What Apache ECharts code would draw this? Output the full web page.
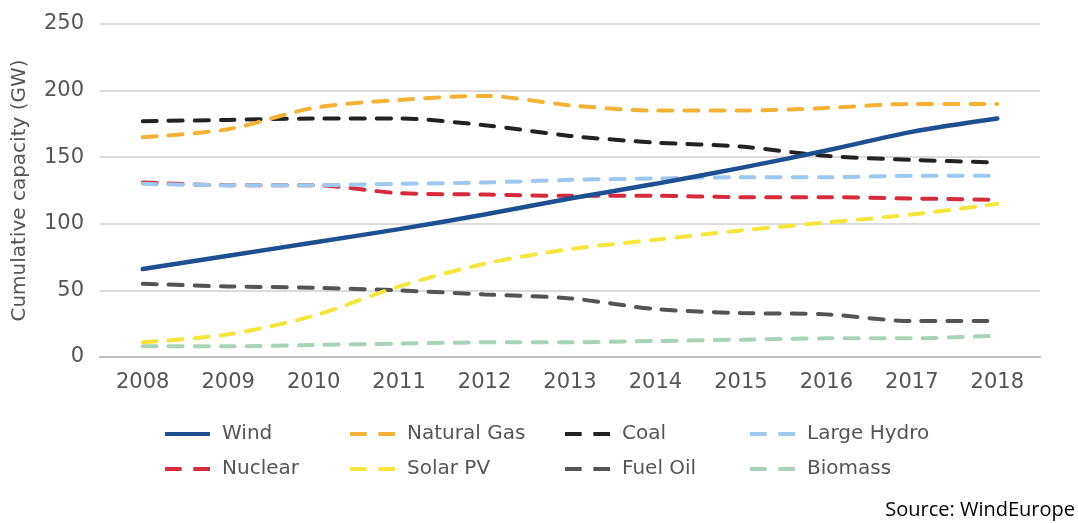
<!DOCTYPE html>
<html>
<head>
<meta charset="utf-8">
<script src="https://cdn.jsdelivr.net/npm/echarts@6/dist/echarts.min.js"></script>
<style>
  html, body { margin: 0; padding: 0; background: #fff; }
  #main { width: 1078px; height: 523px; }
</style>
</head>
<body>
<div id="main"></div>
<script>
// data (GW)
var years = ['2008','2009','2010','2011','2012','2013','2014','2015','2016','2017','2018'];
var wind       = [66, 76, 86, 96, 107, 119, 130, 142, 155, 169, 179];
var naturalGas = [165, 171, 187, 193, 196, 189, 185, 185, 187, 190, 190];
var coal       = [177, 178, 179, 179, 174, 166, 161, 158, 151, 148, 146];
var largeHydro = [130, 129, 129, 130, 131, 133, 134, 135, 135, 136, 136];
var nuclear    = [131, 129, 129, 123, 122, 121, 121, 120, 120, 119, 118];
var solarPV    = [11, 17, 31, 53, 70, 81, 88, 95, 101, 107, 115];
var fuelOil    = [55, 53, 52, 50, 47, 44, 36, 33, 32, 27, 27];
var biomass    = [8, 8, 9, 10, 11, 11, 12, 13, 14, 14, 16];

var font = 'DejaVu Sans';
var txt = '#555';

// legend icons: solid bar / two dashes
var solidIcon = 'path://M0,0h46v4h-46z';
var dashIcon = 'path://M0,0h17v4h-17z M29,0h17v4h-17z';

function mk(name, data, color, dashed) {
  return {
    name: name,
    type: 'line',
    data: data,
    symbol: 'none',
    smooth: 0.3,
    lineStyle: {
      color: color,
      width: dashed ? 4 : 4.5,
      type: dashed ? [14, 12] : 'solid',
      cap: 'round'
    },
    itemStyle: { color: color }
  };
}

function leg(left, names) {
  return {
    orient: 'vertical',
    left: left,
    top: 418,
    data: names.map(function (n) {
      return { name: n, icon: n === 'Wind' ? solidIcon : dashIcon };
    }),
    itemWidth: 45,
    itemHeight: 4,
    itemGap: 13,
    textStyle: { fontFamily: font, fontSize: 20, color: txt, lineHeight: 22, padding: [0, 0, 0, 7] }
  };
}

var myChart = echarts.init(document.getElementById('main'));
var option = {
  backgroundColor: '#fff',
  animation: false,
  grid: { left: 100, right: 38, top: 24, bottom: 166 },
  xAxis: {
    type: 'category',
    data: years,
    boundaryGap: true,
    axisLine: { lineStyle: { color: '#bdbdbd', width: 2 } },
    axisTick: { show: false },
    axisLabel: { fontFamily: font, fontSize: 21, color: txt, margin: 15 }
  },
  yAxis: {
    type: 'value',
    min: 0,
    max: 250,
    interval: 50,
    name: 'Cumulative capacity (GW)',
    nameLocation: 'middle',
    nameRotate: 90,
    nameGap: 70,
    nameTextStyle: { fontFamily: font, fontSize: 20, color: txt },
    axisLine: { show: false },
    axisTick: { show: false },
    axisLabel: { fontFamily: font, fontSize: 21, color: txt, margin: 16 },
    splitLine: { lineStyle: { color: '#cfcfcf', width: 1.5 } }
  },
  legend: [
    leg(160, ['Wind', 'Nuclear']),
    leg(345, ['Natural Gas', 'Solar PV']),
    leg(560, ['Coal', 'Fuel Oil']),
    leg(745, ['Large Hydro', 'Biomass'])
  ],
  graphic: [{
    type: 'text',
    right: 3,
    top: 500,
    style: { text: 'Source: WindEurope', fontFamily: 'Open Sans', fontSize: 20, fill: '#000' }
  }],
  series: [
    mk('Biomass', biomass, '#a9d3b6', true),
    mk('Fuel Oil', fuelOil, '#545454', true),
    mk('Solar PV', solarPV, '#f5e53d', true),
    mk('Nuclear', nuclear, '#d62b3c', true),
    mk('Large Hydro', largeHydro, '#9ec8ee', true),
    mk('Coal', coal, '#222222', true),
    mk('Natural Gas', naturalGas, '#f3b236', true),
    mk('Wind', wind, '#1d4f91', false)
  ]
};
myChart.setOption(option);
</script>
</body>
</html>
